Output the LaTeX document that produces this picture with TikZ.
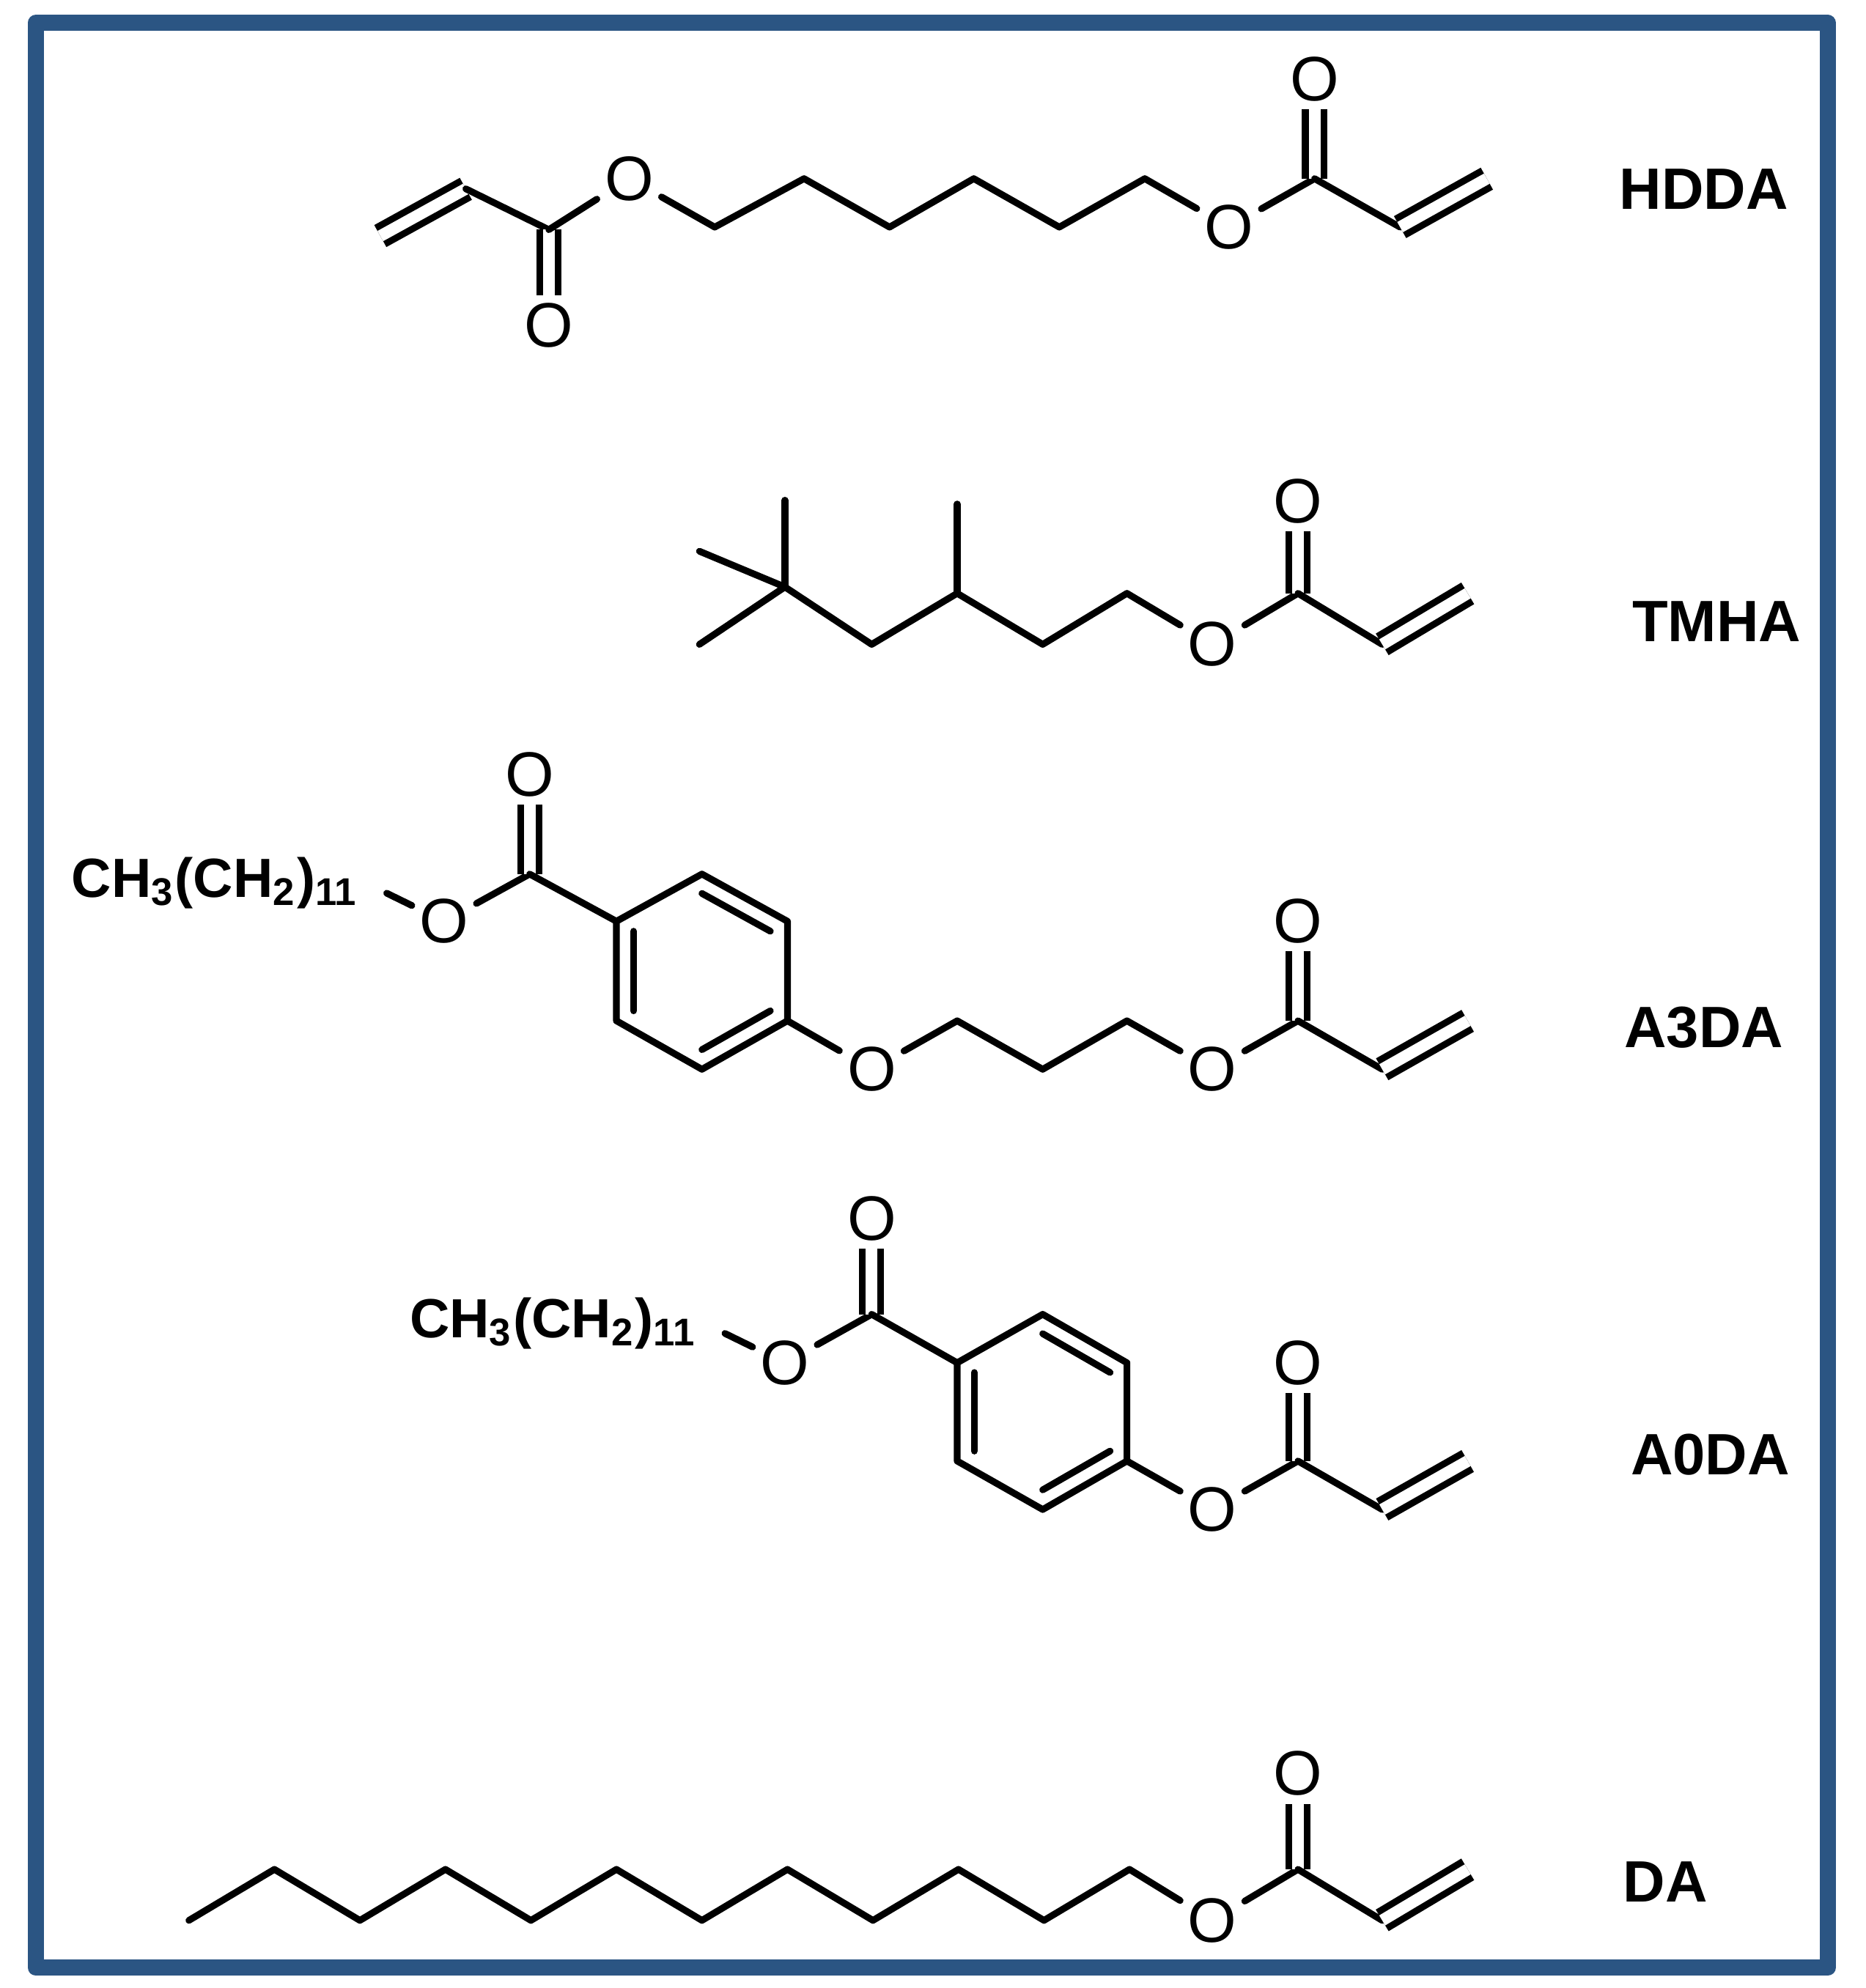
\documentclass[tikz,border=0pt]{standalone}
\usepackage{fontspec}
\setmainfont{Liberation Sans}
\usetikzlibrary{calc}
\definecolor{frame}{HTML}{2B5583}
\begin{document}
\begin{tikzpicture}[x=0.01cm,y=-0.01cm,line width=1.5pt,line cap=round,line join=round,
  atom/.style={font=\fontsize{14}{16}\selectfont,inner sep=1pt},
  chain/.style={font=\fontsize{12.3}{14}\selectfont\bfseries,inner sep=1pt},
  lab/.style={font=\fontsize{13}{16}\selectfont\bfseries},
  dbl/.style={double distance=2.6pt,line cap=butt}]
\useasboundingbox (0,0) rectangle (1462,1558);
\fill[white] (0,0) rectangle (1462,1558);
\draw[frame,line width=3.6pt] (28,18) rectangle (1432,1542);

% HDDA
\coordinate (h1) at (298,185); \coordinate (h2) at (365,148); \coordinate (h3) at (430,180);
\node[atom] (hO1) at (430,255) {O}; \node[atom] (hO2) at (493,140) {O};
\coordinate (h4) at (560,178); \coordinate (h5) at (630,140); \coordinate (h6) at (697,178);
\coordinate (h7) at (763,140); \coordinate (h8) at (830,178); \coordinate (h9) at (897,140);
\node[atom] (hO3) at (963,178) {O}; \coordinate (h10) at (1030,140);
\node[atom] (hO4) at (1030,62) {O}; \coordinate (h11) at (1097,178); \coordinate (h12) at (1165,140);
\draw[dbl] (h1) -- (h2); \draw (h2) -- (h3); \draw[dbl] (h3) -- (hO1);
\draw (h3) -- (hO2); \draw (hO2) -- (h4) -- (h5) -- (h6) -- (h7) -- (h8) -- (h9) -- (hO3);
\draw (hO3) -- (h10); \draw[dbl] (h10) -- (hO4); \draw (h10) -- (h11); \draw[dbl] (h11) -- (h12);
\node[lab] (lh) at (1335,148) {HDDA};

% TMHA
\coordinate (t1) at (615,460); \coordinate (tm1) at (615,392); \coordinate (tm2) at (548,432); \coordinate (tm3) at (548,505);
\coordinate (t2) at (683,505); \coordinate (t3) at (750,465); \coordinate (tm4) at (750,395);
\coordinate (t4) at (817,505); \coordinate (t5) at (883,465); \node[atom] (tO1) at (950,505) {O};
\coordinate (t6) at (1017,465); \node[atom] (tO2) at (1017,393) {O};
\coordinate (t7) at (1083,505); \coordinate (t8) at (1150,465);
\draw (tm1) -- (t1); \draw (tm2) -- (t1); \draw (tm3) -- (t1);
\draw (t1) -- (t2) -- (t3) -- (t4) -- (t5) -- (tO1); \draw (t3) -- (tm4);
\draw (tO1) -- (t6); \draw[dbl] (t6) -- (tO2); \draw (t6) -- (t7); \draw[dbl] (t7) -- (t8);
\node[lab] (lt) at (1345,487) {TMHA};

% A3DA
\node[chain,anchor=east] (aR) at (287,692) {CH\textsubscript{3}(CH\textsubscript{2})\textsubscript{11}};
\coordinate (ab) at (303,700);
\node[atom] (aO1) at (348,722) {O}; \coordinate (a1) at (415,685); \node[atom] (aO2) at (415,607) {O};
\coordinate (r1) at (483,722); \coordinate (r2) at (550,685); \coordinate (r3) at (617,722);
\coordinate (r4) at (617,800); \coordinate (r5) at (550,838); \coordinate (r6) at (483,800);
\coordinate (rc) at (550,761);
\node[atom] (aO3) at (683,838) {O}; \coordinate (a2) at (750,800); \coordinate (a3) at (817,838);
\coordinate (a4) at (883,800); \node[atom] (aO4) at (950,838) {O}; \coordinate (a5) at (1017,800);
\node[atom] (aO5) at (1017,722) {O}; \coordinate (a6) at (1083,838); \coordinate (a7) at (1150,800);
\draw (ab) -- (aO1); \draw (aO1) -- (a1); \draw[dbl] (a1) -- (aO2); \draw (a1) -- (r1);
\draw (r1) -- (r2) -- (r3) -- (r4) -- (r5) -- (r6) -- cycle;
\draw ($(r1)!0.2!(rc)$) -- ($(r6)!0.2!(rc)$);
\draw ($(r2)!0.2!(rc)$) -- ($(r3)!0.2!(rc)$);
\draw ($(r4)!0.2!(rc)$) -- ($(r5)!0.2!(rc)$);
\draw (r4) -- (aO3); \draw (aO3) -- (a2) -- (a3) -- (a4) -- (aO4); \draw (aO4) -- (a5);
\draw[dbl] (a5) -- (aO5); \draw (a5) -- (a6); \draw[dbl] (a6) -- (a7);
\node[lab] (la) at (1335,805) {A3DA};

% A0DA
\node[chain,anchor=east] (bR) at (552,1037) {CH\textsubscript{3}(CH\textsubscript{2})\textsubscript{11}};
\coordinate (bb) at (568,1045);
\node[atom] (bO1) at (615,1068) {O}; \coordinate (b1) at (683,1030); \node[atom] (bO2) at (683,955) {O};
\coordinate (s1) at (750,1068); \coordinate (s2) at (817,1030); \coordinate (s3) at (883,1068);
\coordinate (s4) at (883,1145); \coordinate (s5) at (817,1183); \coordinate (s6) at (750,1145);
\coordinate (sc) at (817,1106);
\node[atom] (bO3) at (950,1183) {O}; \coordinate (b2) at (1017,1145); \node[atom] (bO4) at (1017,1068) {O};
\coordinate (b3) at (1083,1183); \coordinate (b4) at (1150,1145);
\draw (bb) -- (bO1); \draw (bO1) -- (b1); \draw[dbl] (b1) -- (bO2); \draw (b1) -- (s1);
\draw (s1) -- (s2) -- (s3) -- (s4) -- (s5) -- (s6) -- cycle;
\draw ($(s1)!0.2!(sc)$) -- ($(s6)!0.2!(sc)$);
\draw ($(s2)!0.2!(sc)$) -- ($(s3)!0.2!(sc)$);
\draw ($(s4)!0.2!(sc)$) -- ($(s5)!0.2!(sc)$);
\draw (s4) -- (bO3); \draw (bO3) -- (b2); \draw[dbl] (b2) -- (bO4); \draw (b2) -- (b3); \draw[dbl] (b3) -- (b4);
\node[lab] (lb) at (1340,1140) {A0DA};

% DA
\foreach \i in {0,...,11} {
  \pgfmathsetmacro{\xx}{148+67*\i}
  \pgfmathsetmacro{\yy}{ifthenelse(mod(\i,2)==0,1505,1465)}
  \coordinate (d\i) at (\xx,\yy);
}
\node[atom] (dO1) at (950,1505) {O}; \coordinate (dc) at (1017,1465); \node[atom] (dO2) at (1017,1390) {O};
\coordinate (dv1) at (1083,1505); \coordinate (dv2) at (1150,1465);
\draw (d0) -- (d1) -- (d2) -- (d3) -- (d4) -- (d5) -- (d6) -- (d7) -- (d8) -- (d9) -- (d10) -- (d11) -- (dO1);
\draw (dO1) -- (dc); \draw[dbl] (dc) -- (dO2); \draw (dc) -- (dv1); \draw[dbl] (dv1) -- (dv2);
\node[lab] (ld) at (1305,1475) {DA};
\end{tikzpicture}
\end{document}
